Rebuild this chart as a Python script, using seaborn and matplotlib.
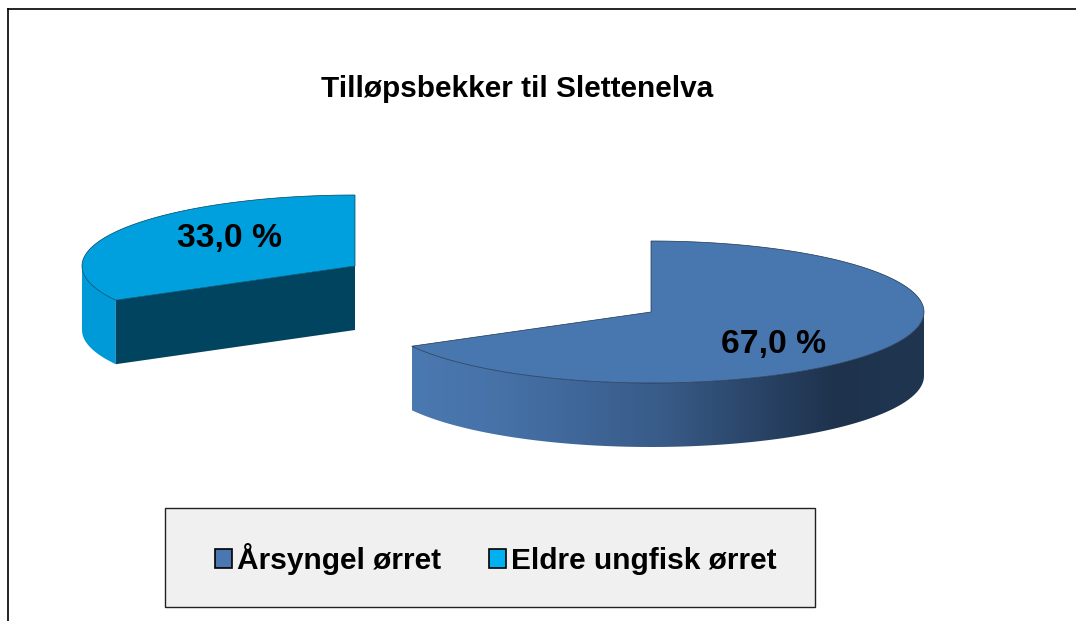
"""Exploded 3D style pie: Tilløpsbekker til Slettenelva."""

import numpy as np
import matplotlib.pyplot as plt
from matplotlib.colors import LinearSegmentedColormap
from matplotlib.patches import Patch, Polygon, Rectangle
import seaborn as sns

categories = ["Årsyngel ørret", "Eldre ungfisk ørret"]
shares = [67.0, 33.0]
title = "Tilløpsbekker til Slettenelva"

WIDTH, HEIGHT = 1076, 621
RX, RY, DEPTH = 273, 71, 64

sns.set_theme(style="white")
plt.rcParams["font.family"] = ["Liberation Sans", "DejaVu Sans"]


def rim(cx, cy, start, stop, n=200):
    """Points on the ellipse, angles in degrees clockwise from 12 o'clock."""
    a = np.radians(np.linspace(start, stop, n))
    return np.column_stack([cx + RX * np.sin(a), cy - RY * np.cos(a)])


fig = plt.figure(figsize=(WIDTH / 100, HEIGHT / 100), dpi=100, facecolor="white")
# axes start at the chart frame, data units are image pixels
ax = fig.add_axes([8 / WIDTH, 0, 1 - 8 / WIDTH, 1 - 9 / HEIGHT])
ax.set_xlim(8, WIDTH)
ax.set_ylim(HEIGHT, 9)
ax.set_xticks([])
ax.set_yticks([])
sns.despine(ax=ax, right=True, bottom=True)
for side in ["left", "top"]:
    ax.spines[side].set_visible(True)
    ax.spines[side].set_color("black")
    ax.spines[side].set_linewidth(1.2)

sweep = np.array(shares) / sum(shares) * 360

# ---------------------------------------------------------------------
#  Large slice, 12 o'clock clockwise
# ---------------------------------------------------------------------
cx, cy = 651, 312
top_pts = rim(cx, cy, 0, sweep[0])
wall_top = rim(cx, cy, 90, sweep[0])
wall_bottom = wall_top + [0, DEPTH]
wall = Polygon(np.vstack([wall_top, wall_bottom[::-1]]), closed=True,
               facecolor="none", edgecolor="none")
ax.add_patch(wall)
ramp = LinearSegmentedColormap.from_list(
    "wall", sns.blend_palette(["#4A78B0", "#4672A8", "#3F6698", "#385A86",
                               "#2A4568", "#1E324C", "#203650"], 64))
grad = ax.imshow(np.linspace(0, 1, 256)[None, :], cmap=ramp, aspect="auto",
                 extent=[cx + RX * np.sin(np.radians(sweep[0])), cx + RX, HEIGHT, 9], zorder=2)
grad.set_clip_path(wall)
ax.set_xlim(8, WIDTH)
ax.set_ylim(HEIGHT, 9)
ax.add_patch(Polygon(np.vstack([[cx, cy], top_pts]), closed=True, facecolor="#4876AE",
                     edgecolor="#1F3550", linewidth=0.5, zorder=3))

# ---------------------------------------------------------------------
#  Small slice, pulled out to the left
# ---------------------------------------------------------------------
cx2, cy2 = 355, 266
start = sweep[0]
top_pts2 = rim(cx2, cy2, start, 360)
wall_top2 = rim(cx2, cy2, start, 270, 60)
ax.add_patch(Polygon(np.vstack([wall_top2, (wall_top2 + [0, DEPTH])[::-1]]), closed=True,
                     facecolor="#009AD9", edgecolor="none", zorder=2))
edge = top_pts2[0]
ax.add_patch(Polygon([edge, [cx2, cy2], [cx2, cy2 + DEPTH], edge + [0, DEPTH]], closed=True,
                     facecolor="#00445F", edgecolor="none", zorder=2))
ax.add_patch(Polygon(np.vstack([[cx2, cy2], top_pts2]), closed=True, facecolor="#00A0DF",
                     edgecolor="#00445F", linewidth=0.5, zorder=3))

# ---------------------------------------------------------------------
#  Texts and legend
# ---------------------------------------------------------------------
label_xy = [(773.5, 344), (229.5, 239)]
for share, (x, y) in zip(shares, label_xy):
    ax.text(x, y, f"{share:.1f} %".replace(".", ","), ha="center", va="center",
            fontsize=24.3, fontweight="bold", color="black", zorder=4)

ax.text(517.5, 89, title, ha="center", va="center", fontsize=21.4, fontweight="bold", color="black")

ax.add_patch(Rectangle((165, 508), 650, 99, facecolor="#F0F0F0", edgecolor="#222222",
                       linewidth=1.0, zorder=1))
handles = [Patch(facecolor=c, edgecolor="black", linewidth=1.2, label=n)
           for c, n in zip(["#4A76B2", "#00B0F0"], categories)]
leg = ax.legend(handles=handles, loc="center", bbox_to_anchor=(496, 559), bbox_transform=ax.transData,
                ncols=2, frameon=False, handlelength=0.57, handleheight=0.6, handletextpad=0.17,
                columnspacing=1.6, borderpad=0, labelcolor="black",
                prop={"size": 21.5, "weight": "bold"})

fig.savefig("out.png", dpi=100, facecolor="white")
